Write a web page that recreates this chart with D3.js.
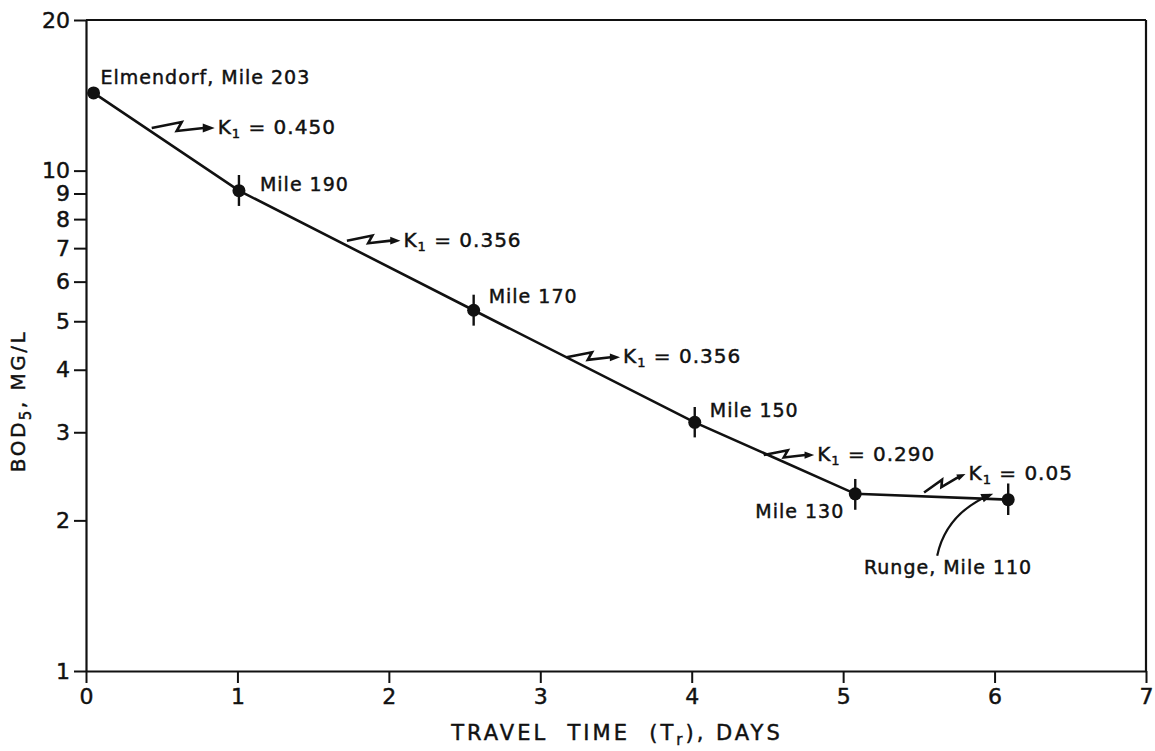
<!DOCTYPE html>
<html>
<head>
<meta charset="utf-8">
<script src="https://cdn.jsdelivr.net/npm/d3@7"></script>
<style>
  body { margin: 0; background: #fff; }
  text { font-family: "DejaVu Sans", sans-serif; fill: #111; stroke: #111; stroke-width: 0.45px; }
</style>
</head>
<body>
<script>
// Data
const stations = ['Elmendorf, Mile 203', 'Mile 190', 'Mile 170', 'Mile 150', 'Mile 130', 'Runge, Mile 110'];
const travelDays = [0.05, 1.01, 2.56, 4.02, 5.08, 6.09];
const bod = [14.3, 9.12, 5.26, 3.14, 2.26, 2.20];
const bodLow = [null, 8.5, 4.9, 2.93, 2.1, 2.05];
const bodHigh = [null, 9.8, 5.65, 3.37, 2.42, 2.37];
const kValues = ['0.450', '0.356', '0.356', '0.290', '0.05'];
const xTicks = [0, 1, 2, 3, 4, 5, 6, 7];
const yTicks = [1, 2, 3, 4, 5, 6, 7, 8, 9, 10, 20];

const width = 1155;
const height = 751;

const svg = d3.select('body')
  .append('svg')
  .attr('width', width)
  .attr('height', height);

const x = d3.scaleLinear().domain([0, 7]).range([86, 1146]);
const y = d3.scaleLog().domain([1, 20]).range([671, 20]);

// frame: top and right edges
svg.append('line')
  .attr('x1', x(0)).attr('x2', x(7))
  .attr('y1', y(20)).attr('y2', y(20))
  .attr('stroke', '#111').attr('stroke-width', 2.2);
svg.append('line')
  .attr('x1', x(7)).attr('x2', x(7))
  .attr('y1', y(20)).attr('y2', y(1))
  .attr('stroke', '#111').attr('stroke-width', 2.2);

// axes
const yAxis = d3.axisLeft(y)
  .tickValues(yTicks)
  .tickFormat(d3.format('d'))
  .tickSize(12)
  .tickSizeOuter(0)
  .tickPadding(4);

const xAxis = d3.axisBottom(x)
  .tickValues(xTicks)
  .tickFormat(d3.format('d'))
  .tickSize(12)
  .tickSizeOuter(0)
  .tickPadding(5);

const gy = svg.append('g')
  .attr('transform', `translate(${x(0)},0)`)
  .call(yAxis);
const gx = svg.append('g')
  .attr('transform', `translate(0,${y(1)})`)
  .call(xAxis);

[gx, gy].forEach(g => {
  g.select('.domain').attr('stroke', '#111').attr('stroke-width', 2.2);
  g.selectAll('.tick line').attr('stroke', '#111').attr('stroke-width', 2);
  g.selectAll('.tick text')
    .style('font-family', '"DejaVu Sans", sans-serif')
    .style('font-size', '22px')
    .attr('fill', '#111');
});

// axis titles
const xTitle = svg.append('text')
  .attr('x', 617)
  .attr('y', 740)
  .attr('text-anchor', 'middle')
  .style('font-size', '21px')
  .style('white-space', 'pre')
  .style('letter-spacing', '3px');
xTitle.append('tspan').text('TRAVEL  TIME  (T');
xTitle.append('tspan').text('r').style('font-size', '15px').attr('dy', 5);
xTitle.append('tspan').text('), DAYS').attr('dy', -5);

const yTitle = svg.append('text')
  .attr('transform', 'translate(25,401) rotate(-90)')
  .attr('text-anchor', 'middle')
  .style('font-size', '20px')
  .style('letter-spacing', '2.5px');
yTitle.append('tspan').text('BOD');
yTitle.append('tspan').text('5').style('font-size', '15px').attr('dy', 6);
yTitle.append('tspan').text(', MG/L').attr('dy', -6);

// rows joined for drawing
const rows = stations.map((s, i) => ({
  name: s, t: travelDays[i], v: bod[i], lo: bodLow[i], hi: bodHigh[i]
}));

// connecting line
const line = d3.line().x(d => x(d.t)).y(d => y(d.v));
svg.append('path')
  .datum(rows)
  .attr('d', line)
  .attr('fill', 'none')
  .attr('stroke', '#111')
  .attr('stroke-width', 2.6);

// error bars
svg.selectAll('.err')
  .data(rows.filter(d => d.lo != null))
  .enter()
  .append('line')
  .attr('class', 'err')
  .attr('x1', d => x(d.t)).attr('x2', d => x(d.t))
  .attr('y1', d => y(d.hi)).attr('y2', d => y(d.lo))
  .attr('stroke', '#111')
  .attr('stroke-width', 2.4);

// points
svg.selectAll('.pt')
  .data(rows)
  .enter()
  .append('circle')
  .attr('class', 'pt')
  .attr('cx', d => x(d.t))
  .attr('cy', d => y(d.v))
  .attr('r', 6.5)
  .attr('fill', '#111');

// station labels, offset from their points
const labelOffsets = [
  { dx: 7, dy: -9, anchor: 'start' },
  { dx: 21, dy: 0, anchor: 'start' },
  { dx: 15, dy: -7, anchor: 'start' },
  { dx: 15, dy: -5, anchor: 'start' },
  { dx: -11, dy: 24, anchor: 'end' },
  { dx: 24, dy: 74, anchor: 'end' }
];
svg.selectAll('.lbl')
  .data(rows)
  .enter()
  .append('text')
  .attr('class', 'lbl')
  .attr('x', (d, i) => x(d.t) + labelOffsets[i].dx)
  .attr('y', (d, i) => y(d.v) + labelOffsets[i].dy)
  .attr('text-anchor', (d, i) => labelOffsets[i].anchor)
  .style('font-size', '19px')
  .style('letter-spacing', '1px')
  .text(d => d.name);

// curved arrow pointing at Runge
const runge = rows[5];
const rx = x(runge.t), ry = y(runge.v);
svg.append('path')
  .attr('d', `M${rx - 71},${ry + 56} Q${rx - 62},${ry + 14} ${rx - 18},${ry - 5}`)
  .attr('fill', 'none')
  .attr('stroke', '#111')
  .attr('stroke-width', 2.2);
svg.append('path')
  .attr('d', 'M0,0 L-12,-4.5 L-12,4.5 Z')
  .attr('transform', `translate(${rx - 15},${ry - 6}) rotate(-22)`)
  .attr('fill', '#111');

// K1 rate-constant annotations: a zig-zag arrow from a point on each segment
const kLayout = [
  { frac: 0.40, lift: -4, rot: 0, scale: 1 },
  { frac: 0.46, lift: -5, rot: 0, scale: 0.85 },
  { frac: 0.42, lift: 0, rot: 0, scale: 0.85 },
  { frac: 0.43, lift: 2, rot: 0, scale: 0.8 },
  { frac: 0.45, lift: -4, rot: -24, scale: 0.72 }
];
const bolt = 'M0,0 L30,-6 L25,3 L52,0';
const head = 'M63,0 L51,-4.5 L51,4.5 Z';

kValues.forEach((k, i) => {
  const a = rows[i], b = rows[i + 1];
  const L = kLayout[i];
  const px = x(a.t) + (x(b.t) - x(a.t)) * L.frac;
  const py = y(a.v) + (y(b.v) - y(a.v)) * L.frac + L.lift;
  const g = svg.append('g')
    .attr('transform', `translate(${px},${py}) rotate(${L.rot}) scale(${L.scale})`);
  g.append('path').attr('d', bolt)
    .attr('fill', 'none').attr('stroke', '#111')
    .attr('stroke-width', 2.6 / L.scale).attr('stroke-linejoin', 'miter');
  g.append('path').attr('d', head).attr('fill', '#111');

  // tip of the arrow in page coords
  const rad = L.rot * Math.PI / 180;
  const tipX = px + 63 * L.scale * Math.cos(rad);
  const tipY = py + 63 * L.scale * Math.sin(rad);
  const t = svg.append('text')
    .attr('x', tipX + 3)
    .attr('y', tipY + 6)
    .style('font-size', '20px')
    .style('letter-spacing', '1px');
  t.append('tspan').text('K');
  t.append('tspan').text('1').style('font-size', '13px').attr('dy', 4);
  t.append('tspan').text(` = ${k}`).attr('dy', -4);
});
</script>
</body>
</html>
